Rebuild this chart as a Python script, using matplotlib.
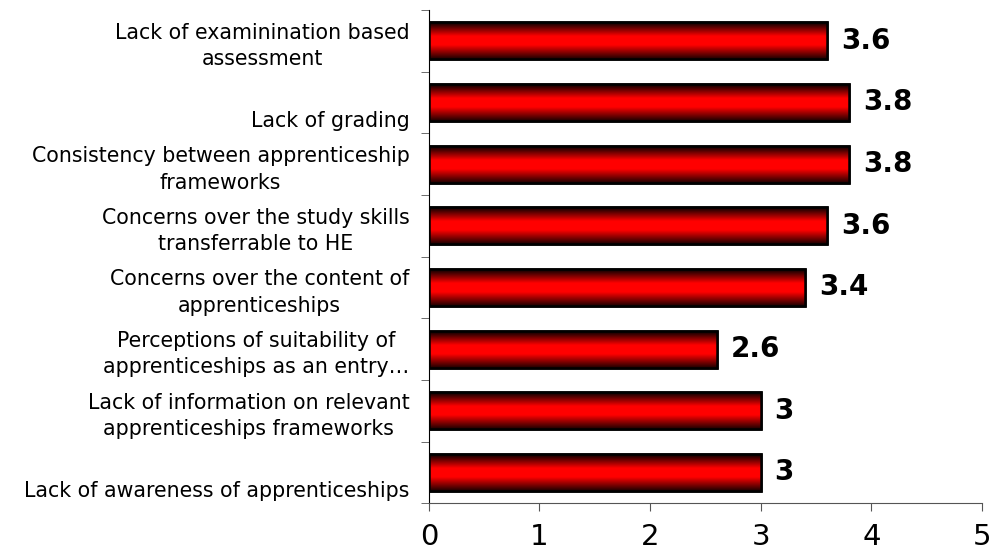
import matplotlib
matplotlib.use("Agg")
import matplotlib.pyplot as plt
import numpy as np
from matplotlib.colors import LinearSegmentedColormap

# Categories listed top to bottom
categories = [
    "Lack of examinination based\nassessment",
    "\nLack of grading",
    "Consistency between apprenticeship\nframeworks",
    "Concerns over the study skills\ntransferrable to HE",
    "Concerns over the content of\napprenticeships",
    "Perceptions of suitability of\napprenticeships as an entry\u2026",
    "Lack of information on relevant\napprenticeships frameworks",
    "\nLack of awareness of apprenticeships",
]
values = [3.6, 3.8, 3.8, 3.6, 3.4, 2.6, 3.0, 3.0]
value_labels = ["3.6", "3.8", "3.8", "3.6", "3.4", "2.6", "3", "3"]
x_ticks = [0, 1, 2, 3, 4, 5]

plt.rcParams["font.family"] = ["DejaVu Sans"]

fig = plt.figure(figsize=(9.95, 5.56), dpi=100)
ax = fig.add_axes([0.431, 0.095, 0.556, 0.887])

y = np.arange(len(categories))
bars = ax.barh(y, values, height=0.6, color="red", edgecolor="black",
               linewidth=1.8, zorder=2)

# vertical black-red-black shading inside each bar
cmap = LinearSegmentedColormap.from_list(
    "bar", [(0, "#000000"), (0.38, "#ff0000"), (0.62, "#ff0000"), (1, "#1a0000")])
grad = np.linspace(0, 1, 256).reshape(-1, 1)
for b in bars:
    x0, y0, w, h = b.get_x(), b.get_y(), b.get_width(), b.get_height()
    im = ax.imshow(grad, cmap=cmap, aspect="auto", extent=(x0, x0 + w, y0 + h, y0),
                   zorder=2.5, interpolation="bilinear")
    im.set_clip_path(b)
    ax.add_patch(plt.Rectangle((x0, y0), w, h, fill=False, edgecolor="black",
                               linewidth=1.8, zorder=3))

for yi, v, lab in zip(y, values, value_labels):
    ax.annotate(lab, (v, yi), xytext=(10, 0), textcoords="offset points",
                ha="left", va="center", fontsize=20, fontweight="bold")

ax.set_xlim(0, 5)
ax.set_ylim(len(categories) - 0.5, -0.5)
ax.set_xticks(x_ticks)
ax.set_xticklabels([str(t) for t in x_ticks], fontsize=21)
ax.set_yticks(y)
ax.set_yticklabels(categories, fontsize=14.8, multialignment="center",
                   linespacing=1.4)
ax.tick_params(axis="y", length=0, pad=14)
ax.set_yticks(np.arange(-0.5, len(categories), 1), minor=True)
ax.tick_params(axis="y", which="minor", length=6, direction="out", color="#555555")
ax.tick_params(axis="x", length=6, direction="out", color="#555555", pad=8)

for s in ["top", "right"]:
    ax.spines[s].set_visible(False)
ax.spines["left"].set_color("black")
ax.spines["bottom"].set_color("#555555")

fig.savefig("out.png", dpi=100)
